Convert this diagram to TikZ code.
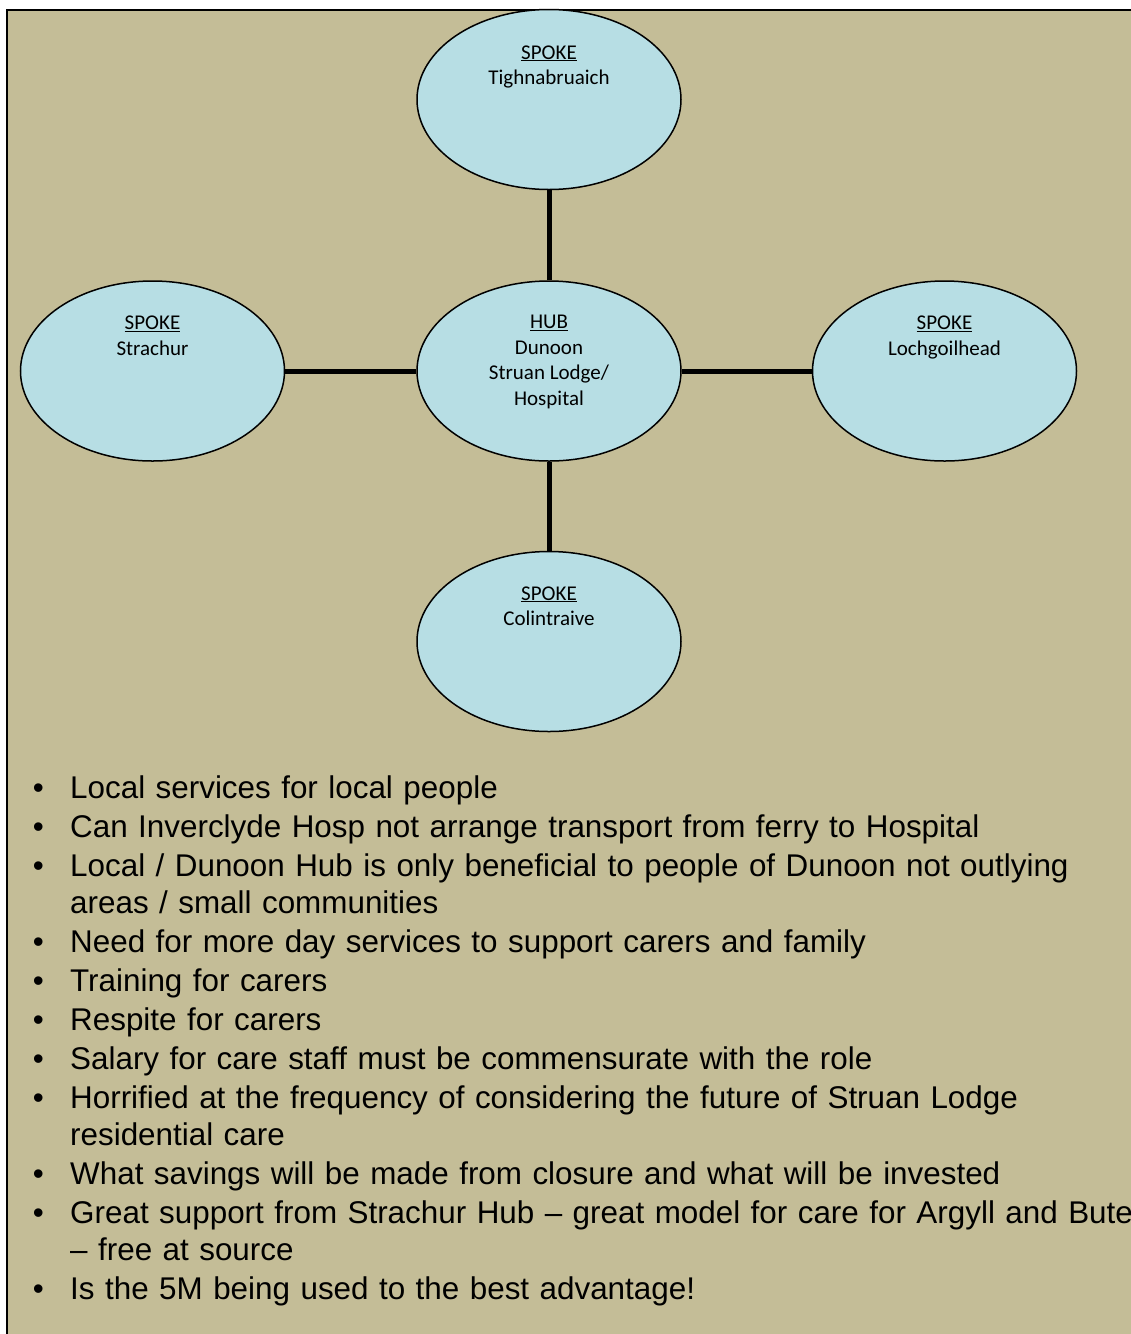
\documentclass[tikz,border=0pt]{standalone}
\usepackage{fontspec}
\setmainfont{Liberation Sans}
\newfontfamily\calibri{Carlito}
\usetikzlibrary{shapes.geometric,positioning}

\definecolor{tanbg}{HTML}{C4BD97}
\definecolor{bubble}{HTML}{B7DEE4}

\tikzset{
  blob/.style={ellipse,draw=black,line width=1.5pt,fill=bubble,
    minimum width=264pt,minimum height=180pt,inner sep=0pt},
  blobtext/.style={anchor=north,align=center,inner sep=0pt,
    font=\calibri\fontsize{21}{25.5}\selectfont},
  link/.style={line width=5pt}
}

\begin{document}
\begin{tikzpicture}[x=1pt,y=-1pt]
   \useasboundingbox (0,0) rectangle (1131,1334);
   \fill[white] (0,0) rectangle (1131,1334);
   \fill[tanbg] (8,11) rectangle (1131,1334);
   \draw[line width=2.5pt] (7,1334) -- (7,10) -- (1131,10);

   % hub and spokes
   \node[blob] (hub) at (549,371) {};
   \node[blob, above=90pt of hub] (tigh) {};
   \node[blob, left=131pt of hub] (strachur) {};
   \node[blob, right=130pt of hub] (lochg) {};
   \node[blob, below=89pt of hub] (colin) {};

   \draw[link] (hub) -- (tigh);
   \draw[link] (hub) -- (strachur);
   \draw[link] (hub) -- (lochg);
   \draw[link] (hub) -- (colin);

   \node[blobtext] (hubtxt) at ([yshift=-35pt]hub.north)
     {\underline{HUB}\\Dunoon\\Struan Lodge/\\Hospital};
   \node[blobtext] (tightxt) at ([yshift=-36.5pt]tigh.north)
     {\underline{SPOKE}\\Tighnabruaich};
   \node[blobtext] (strachurtxt) at ([yshift=-35.5pt]strachur.north)
     {\underline{SPOKE}\\Strachur};
   \node[blobtext] (lochgtxt) at ([yshift=-35.5pt]lochg.north)
     {\underline{SPOKE}\\Lochgoilhead};
   \node[blobtext] (colintxt) at ([yshift=-35.5pt]colin.north)
     {\underline{SPOKE}\\Colintraive};

   % comments list
   \node[anchor=north west,inner sep=0pt,text width=1130pt,align=left,
     font=\fontsize{31.4}{37}\selectfont] (notes) at (30,753) {%
     \setlength{\leftmargini}{40pt}%
     \begin{itemize}
       \setlength{\itemsep}{2pt}\setlength{\parsep}{0pt}\setlength{\parskip}{0pt}%
       \setlength{\labelsep}{26.4pt}
       \item Local services for local people
       \item Can Inverclyde Hosp not arrange transport from ferry to Hospital
       \item Local / Dunoon Hub is only beneficial to people of Dunoon not outlying\\areas / small communities
       \item Need for more day services to support carers and family
       \item Training for carers
       \item Respite for carers
       \item Salary for care staff must be commensurate with the role
       \item Horrified at the frequency of considering the future of Struan Lodge\\residential care
       \item What savings will be made from closure and what will be invested
       \item Great support from Strachur Hub – great model for care for Argyll and Bute\\– free at source
       \item Is the 5M being used to the best advantage!
     \end{itemize}};
 \end{tikzpicture}
\end{document}
